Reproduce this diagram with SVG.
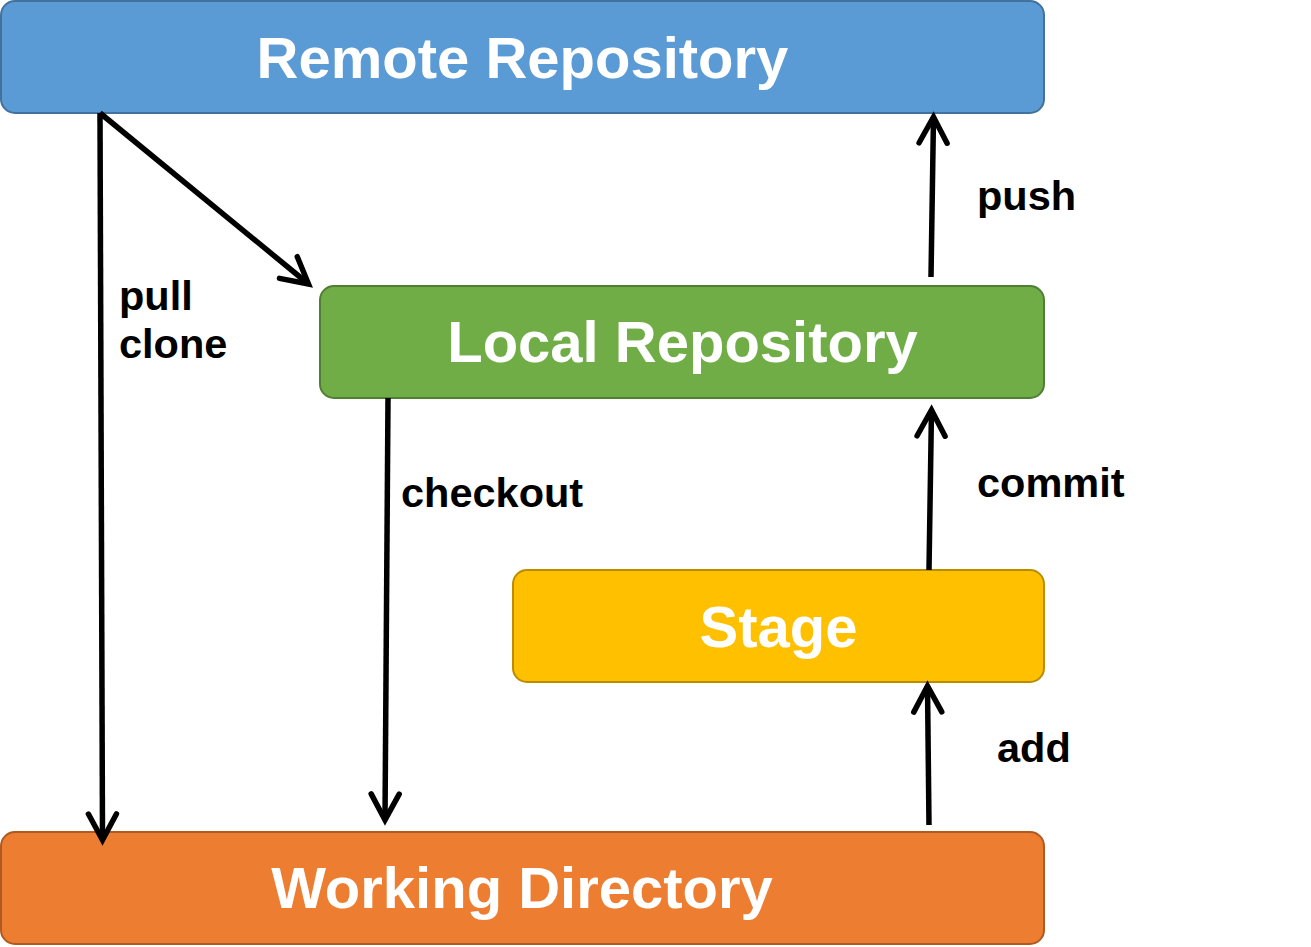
<svg xmlns="http://www.w3.org/2000/svg" width="1311" height="947" viewBox="0 0 1311 947">
<style>
.box{stroke-width:2}
.title{font-family:"Liberation Sans",Arial,sans-serif;font-weight:bold;font-size:58px;fill:#ffffff;text-anchor:middle}
.lbl{font-family:"Liberation Sans",Arial,sans-serif;font-weight:bold;font-size:41.5px;fill:#000000}
.conn{stroke:#000;stroke-width:5.5;fill:none;marker-end:url(#arr)}
</style>
<defs>
<marker id="arr" markerUnits="userSpaceOnUse" viewBox="-40 -20 50 40" refX="0" refY="0" markerWidth="50" markerHeight="40" orient="auto" overflow="visible">
<path d="M-26,-14 L0,0 L-26,14" fill="none" stroke="#000" stroke-width="5.5" stroke-linecap="round" stroke-linejoin="miter"/>
</marker>
</defs>
<rect width="1311" height="947" fill="#ffffff"/>
<g id="remote">
<rect class="box" x="1" y="1" width="1043" height="112" rx="14" fill="#5B9BD5" stroke="#41719C"/>
<text class="title" x="522.5" y="78">Remote Repository</text>
</g>
<g id="local">
<rect class="box" x="320" y="286" width="724" height="112" rx="14" fill="#70AD47" stroke="#507E32"/>
<text class="title" x="682.5" y="362">Local Repository</text>
</g>
<g id="stage">
<rect class="box" x="513" y="570" width="531" height="112" rx="14" fill="#FFC000" stroke="#BC8C00"/>
<text class="title" x="778.5" y="647">Stage</text>
</g>
<g id="working">
<rect class="box" x="1" y="832" width="1043" height="112" rx="14" fill="#ED7D31" stroke="#AE5A21"/>
<text class="title" x="522" y="908">Working Directory</text>
</g>
<g id="connectors">
<line class="conn" x1="100" y1="113" x2="102.5" y2="840"/>
<line class="conn" x1="100" y1="113" x2="308.5" y2="284"/>
<line class="conn" x1="388" y1="398" x2="385" y2="820"/>
<line class="conn" x1="931" y1="277" x2="933.5" y2="117"/>
<line class="conn" x1="929" y1="570" x2="931.5" y2="410"/>
<line class="conn" x1="929" y1="825" x2="927.5" y2="686"/>
</g>
<g id="labels">
<text class="lbl" x="119" y="310">pull</text>
<text class="lbl" x="119" y="358">clone</text>
<text class="lbl" x="401" y="507">checkout</text>
<text class="lbl" x="977" y="210">push</text>
<text class="lbl" x="977" y="497">commit</text>
<text class="lbl" x="997" y="762">add</text>
</g>
</svg>
